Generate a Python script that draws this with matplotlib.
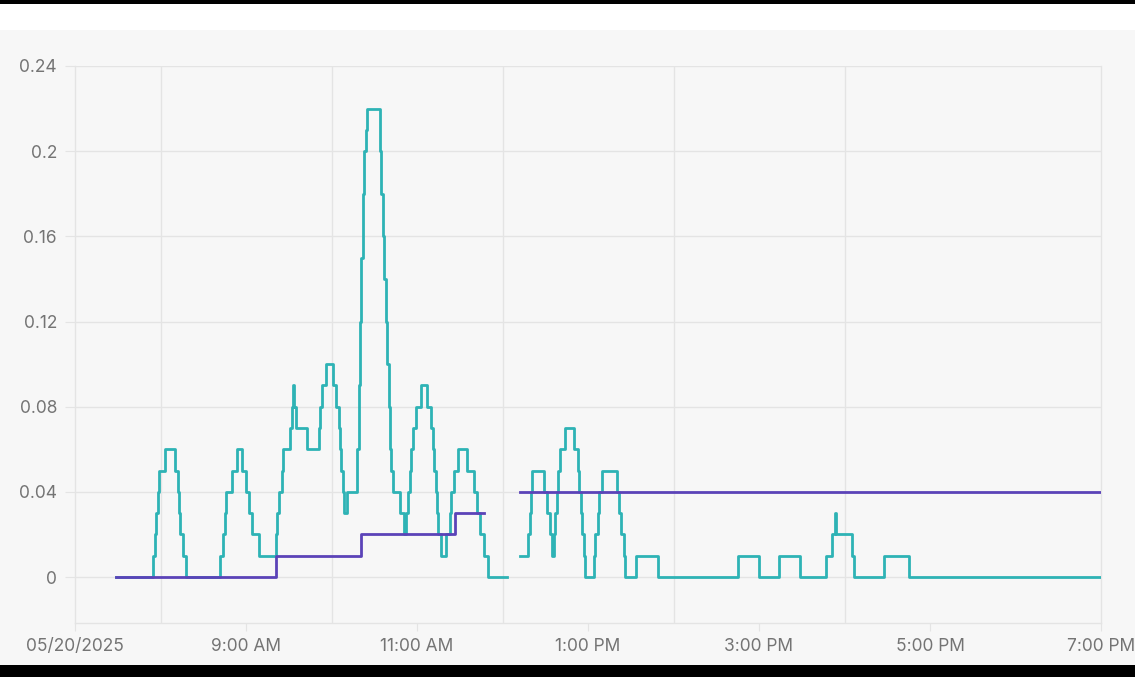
import numpy as np
import matplotlib
matplotlib.use("Agg")
import matplotlib.pyplot as plt
import matplotlib.dates as mdates
from matplotlib.patches import Rectangle
from datetime import datetime

DAY = "2025-05-20"

# ---- data (change points of step series) ----
teal_times = [
    "07:29", "07:55", "07:56", "07:57", "07:58", "07:59", "08:03", "08:10", "08:12", "08:13",
    "08:14", "08:16", "08:18", "08:42", "08:44", "08:45", "08:46", "08:50", "08:54", "08:57",
    "09:00", "09:02", "09:04", "09:09", "09:21", "09:22", "09:23", "09:25", "09:26", "09:31",
    "09:32", "09:33", "09:34", "09:35", "09:43", "09:51", "09:52", "09:53", "09:56", "10:01",
    "10:03", "10:05", "10:06", "10:07", "10:08", "10:09", "10:11", "10:18", "10:19", "10:20",
    "10:21", "10:22", "10:23", "10:24", "10:25", "10:34", "10:35", "10:36", "10:37", "10:38",
    "10:39", "10:40", "10:41", "10:42", "10:43", "10:48", "10:51", "10:52", "10:54", "10:55",
    "10:56", "10:57", "10:59", "11:03", "11:07", "11:10", "11:11", "11:12", "11:13", "11:14",
    "11:15", "11:17", "11:20", "11:23", "11:24", "11:26", "11:29", "11:35", "11:40", "11:42",
    "11:44", "11:47", "11:50", "12:03", "12:12", "12:18", "12:19", "12:20", "12:21", "12:29",
    "12:31", "12:33", "12:35", "12:36", "12:37", "12:38", "12:39", "12:40", "12:44", "12:50",
    "12:53", "12:54", "12:55", "12:56", "12:57", "12:58", "13:04", "13:05", "13:07", "13:08",
    "13:10", "13:20", "13:22", "13:23", "13:25", "13:26", "13:34", "13:49", "14:45", "15:00",
    "15:14", "15:29", "15:47", "15:51", "15:53", "15:54", "16:05", "16:07", "16:28", "16:45",
    "19:00",
]
teal_values = [
    0, 0.01, 0.02, 0.03, 0.04, 0.05, 0.06, 0.05, 0.04, 0.03,
    0.02, 0.01, 0, 0.01, 0.02, 0.03, 0.04, 0.05, 0.06, 0.05,
    0.04, 0.03, 0.02, 0.01, 0.02, 0.03, 0.04, 0.05, 0.06, 0.07,
    0.08, 0.09, 0.08, 0.07, 0.06, 0.07, 0.08, 0.09, 0.10, 0.09,
    0.08, 0.07, 0.06, 0.05, 0.04, 0.03, 0.04, 0.06, 0.09, 0.12,
    0.15, 0.18, 0.20, 0.21, 0.22, 0.20, 0.18, 0.16, 0.14, 0.12,
    0.10, 0.08, 0.06, 0.05, 0.04, 0.03, 0.02, 0.03, 0.04, 0.05,
    0.06, 0.07, 0.08, 0.09, 0.08, 0.07, 0.06, 0.05, 0.04, 0.03,
    0.02, 0.01, 0.02, 0.03, 0.04, 0.05, 0.06, 0.05, 0.04, 0.03,
    0.02, 0.01, 0, np.nan, 0.01, 0.02, 0.03, 0.04, 0.05, 0.04,
    0.03, 0.02, 0.01, 0.02, 0.03, 0.04, 0.05, 0.06, 0.07, 0.06,
    0.05, 0.04, 0.03, 0.02, 0.01, 0, 0.01, 0.02, 0.03, 0.04,
    0.05, 0.04, 0.03, 0.02, 0.01, 0, 0.01, 0, 0.01, 0,
    0.01, 0, 0.01, 0.02, 0.03, 0.02, 0.01, 0, 0.01, 0,
    0,
]

purple_times = ["07:29", "09:21", "10:21", "11:27", "11:47", "12:12", "19:00"]
purple_values = [0, 0.01, 0.02, 0.03, np.nan, 0.04, 0.04]

x_tick_times = ["07:00", "09:00", "11:00", "13:00", "15:00", "17:00", "19:00"]
x_tick_labels = ["05/20/2025", "9:00 AM", "11:00 AM", "1:00 PM", "3:00 PM", "5:00 PM", "7:00 PM"]
x_grid_times = ["08:00", "10:00", "12:00", "14:00", "16:00"]
y_ticks = [0, 0.04, 0.08, 0.12, 0.16, 0.2, 0.24]
y_tick_labels = ["0", "0.04", "0.08", "0.12", "0.16", "0.2", "0.24"]


def to_dt(hhmm_list):
    return [datetime.strptime(f"{DAY} {t}", "%Y-%m-%d %H:%M") for t in hhmm_list]


plt.rcParams["font.family"] = ["Inter", "DejaVu Sans"]

W, H = 1135, 677
fig = plt.figure(figsize=(W / 100, H / 100), dpi=100)
fig.patch.set_facecolor("white")

# frame decorations (screenshot background)
fig.patches.append(Rectangle((0, 12 / H), 1, (665 - 30) / H, transform=fig.transFigure,
                             facecolor="#f7f7f7", edgecolor="none", zorder=-10))
fig.patches.append(Rectangle((0, 1 - 4 / H), 1, 4 / H, transform=fig.transFigure,
                             facecolor="black", edgecolor="none", zorder=-10))
fig.patches.append(Rectangle((0, 0), 1, 12 / H, transform=fig.transFigure,
                             facecolor="black", edgecolor="none", zorder=-10))

ax = fig.add_axes([75 / W, (H - 623) / H, (1101 - 75) / W, (623 - 66) / H])
ax.set_facecolor("#f7f7f7")

grid_col = "#e4e4e4"
label_col = "#747474"

ax.plot(to_dt(teal_times), teal_values, drawstyle="steps-post", color="#2eb3b5",
        lw=2.0, zorder=3)
ax.plot(to_dt(purple_times), purple_values, drawstyle="steps-post", color="#5b43b8",
        lw=2.0, zorder=4)

ax.set_xlim(to_dt(["07:00"])[0], to_dt(["19:00"])[0])
ax.set_ylim(-0.0216, 0.24)

ax.set_xticks(to_dt(x_tick_times))
ax.set_xticklabels(x_tick_labels)
ax.set_xticks(to_dt(x_grid_times), minor=True)
ax.set_yticks(y_ticks)
ax.set_yticklabels(y_tick_labels)

ax.grid(True, which="minor", axis="x", color=grid_col, lw=1)
ax.grid(True, which="major", axis="y", color=grid_col, lw=1)
ax.tick_params(axis="x", which="minor", length=0)
ax.tick_params(axis="x", which="major", length=6, color=grid_col, pad=5,
               labelsize=12.5, labelcolor=label_col)
ax.tick_params(axis="y", which="major", length=7, color=grid_col, pad=6,
               labelsize=12.5, labelcolor=label_col)

for side in ["top"]:
    ax.spines[side].set_visible(False)
for side in ["left", "right", "bottom"]:
    ax.spines[side].set_color(grid_col)
    ax.spines[side].set_linewidth(1)

fig.savefig("out.png", dpi=100, facecolor=fig.get_facecolor())
